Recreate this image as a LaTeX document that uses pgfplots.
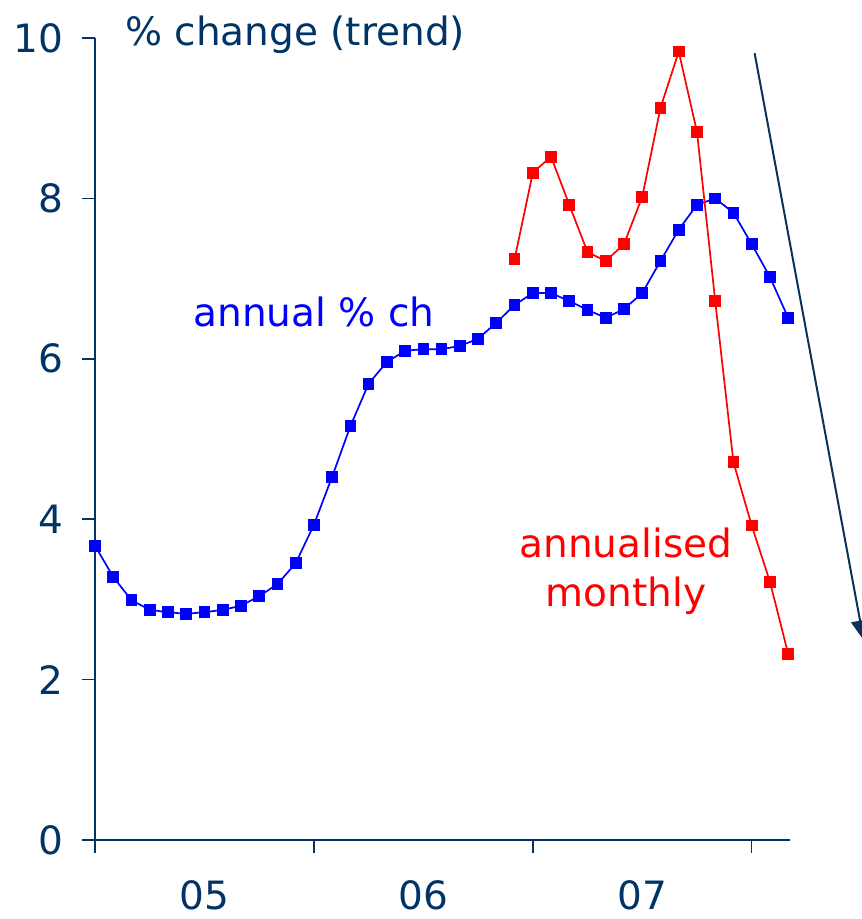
\documentclass[border=0pt]{standalone}
\usepackage{pgfplots}
\pgfplotsset{compat=1.18}
\usetikzlibrary{arrows.meta}
\usepackage{fontspec}
\setmainfont{DejaVu Sans}
\definecolor{navy}{RGB}{0,51,102}
\definecolor{arrowc}{RGB}{10,50,90}
\definecolor{pblue}{RGB}{0,0,255}
\definecolor{pred}{RGB}{255,0,0}
\pgfplotstableread{
x y
0 3.67
1 3.28
2 2.99
3 2.87
4 2.84
5 2.82
6 2.84
7 2.87
8 2.92
9 3.04
10 3.19
11 3.45
12 3.93
13 4.53
14 5.16
15 5.69
16 5.96
17 6.10
18 6.12
19 6.12
20 6.16
21 6.25
22 6.45
23 6.67
24 6.82
25 6.82
26 6.72
27 6.61
28 6.51
29 6.62
30 6.82
31 7.22
32 7.61
33 7.92
34 8.00
35 7.82
36 7.43
37 7.02
38 6.51
}\annual
\pgfplotstableread{
x y
23 7.24
24 8.32
25 8.52
26 7.92
27 7.33
28 7.22
29 7.43
30 8.02
31 9.13
32 9.83
33 8.83
34 6.72
35 4.71
36 3.92
37 3.22
38 2.32
}\monthly
\begin{document}
\fontsize{19.5}{23}\selectfont
\begin{tikzpicture}
\useasboundingbox (-47.5pt,-39.5pt) rectangle (383pt,420pt);
\begin{axis}[
  at={(0pt,0pt)}, anchor=south west,
  scale only axis, width=347.5pt, height=401pt,
  xmin=0, xmax=38.1, ymin=0, ymax=10,
  clip=false,
  axis x line*=bottom, axis y line*=left,
  axis line style={navy, line width=0.75pt},
  ytick={0,2,4,6,8,10},
  xtick={0,12,24,36}, xticklabels={},
  extra x ticks={6,18,30}, extra x tick labels={05,06,07},
  extra x tick style={major tick length=0pt, tick style={draw=none}},
  tick align=outside, major tick length=6.5pt,
  tick style={navy, line width=0.75pt},
  /pgf/number format/assume math mode=true,
  every tick label/.append style={font=\fontsize{19.5}{23}\selectfont, text=navy},
  x tick label style={yshift=-13.5pt},
  y tick label style={xshift=-2.5pt},
]
\addplot[pblue, line width=0.85pt, mark=square*, mark size=2.5pt, mark options={solid, fill=pblue, draw=pblue}] table[x=x,y=y]{\annual};
\addplot[pred, line width=0.85pt, mark=square*, mark size=2.5pt, mark options={solid, fill=pred, draw=pred}] table[x=x,y=y]{\monthly};
\node[anchor=base west, inner sep=0, text=navy] at (axis cs:1.64,9.91) {\% change (trend)};
\node[anchor=base, inner sep=0, text=pblue] at (axis cs:12.0,6.40) {annual \% ch};
\node[anchor=base, inner sep=0, text=pred] at (axis cs:29.1,3.52) {annualised};
\node[anchor=base, inner sep=0, text=pred] at (axis cs:29.1,2.91) {monthly};
\draw[arrowc, line width=1pt, -{Triangle[length=10pt,width=9pt]}] (axis cs:36.16,9.81) -- (axis cs:42.14,2.49);
\end{axis}
\end{tikzpicture}
\end{document}
